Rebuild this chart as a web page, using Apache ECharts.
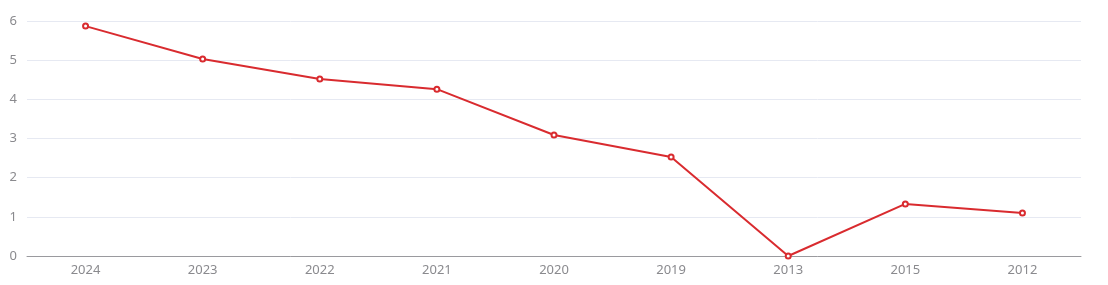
<!DOCTYPE html>
<html><head><meta charset="utf-8">
<script src="https://cdn.jsdelivr.net/npm/echarts@6/dist/echarts.min.js"></script>
<style>html,body{margin:0;padding:0;background:#fff}#c{width:1108px;height:285px}</style>
</head><body><div id="c"></div>
<script>
const categories = ['2024','2023','2022','2021','2020','2019','2013','2015','2012'];
const values = [5.87, 5.03, 4.52, 4.26, 3.09, 2.53, 0, 1.33, 1.10];
const yTicks = [0,1,2,3,4,5,6];
const chart = echarts.init(document.getElementById('c'));
chart.setOption({
  animation:false,
  grid:{left:27,right:27,top:21,bottom:29,containLabel:false},
  xAxis:{type:'category',data:categories,boundaryGap:true,
    axisLine:{lineStyle:{color:'#9a9a9e',width:1}},axisTick:{show:false},
    axisLabel:{color:'#8a8a8e',fontSize:13,fontFamily:'Noto Sans',margin:8}},
  yAxis:{type:'value',min:yTicks[0],max:yTicks[yTicks.length-1],interval:1,
    axisLine:{show:false},axisTick:{show:false},
    axisLabel:{color:'#8a8a8e',fontSize:13,fontFamily:'Noto Sans',margin:10},
    splitLine:{lineStyle:{color:'#e6e9f2'}}},
  series:[{type:'line',data:values,symbol:'emptyCircle',symbolSize:5,
    lineStyle:{color:'#d92b2f',width:2},itemStyle:{color:'#d92b2f',borderWidth:2}}]
});
</script></body></html>
